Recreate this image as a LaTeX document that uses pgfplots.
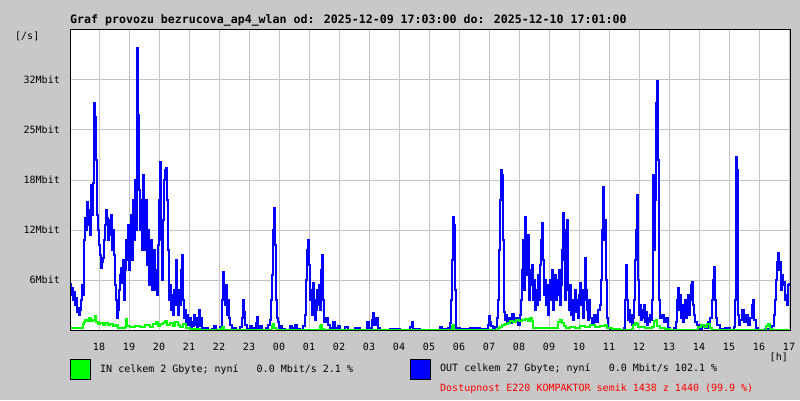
\documentclass[border=0pt]{standalone}
\usepackage{pgfplots}
\pgfplotsset{compat=1.18}
\usepackage{pgfplotstable}
\usepackage{fontspec}
\setmainfont{DejaVu Sans Mono}
\setmonofont{DejaVu Sans Mono}

\definecolor{bggray}{HTML}{C8C8C8}
\definecolor{gridgray}{HTML}{C4C4C4}
\definecolor{ingreen}{HTML}{00FF00}
\definecolor{outblue}{HTML}{0000FF}
\definecolor{availred}{HTML}{FF0000}

% minutes after 17:00 of the first day, Mbit/s
\pgfplotstableread{
m v
2 6.0
4 4.48
6 5.38
8 3.84
10 4.86
12 3.2
14 4.1
16 2.3
18 2.82
20 1.92
22 2.56
24 3.84
26 5.76
28 4.48
30 11.52
32 14.34
34 12.8
36 16.38
38 13.44
40 15.36
42 12.16
44 18.56
46 14.72
48 18.82
50 29.06
52 27.26
54 21.76
56 14.72
58 12.8
60 10.88
62 9.6
64 7.94
66 8.7
68 9.22
70 11.52
72 13.44
74 15.36
76 14.34
78 11.52
80 14.08
82 12.16
84 14.72
86 10.24
88 12.8
90 9.6
92 5.76
94 3.84
96 1.54
98 2.56
100 5.12
102 7.04
104 7.94
106 6.02
108 8.96
110 3.84
112 7.68
114 11.52
116 8.96
118 13.44
120 7.68
122 10.88
124 14.72
126 8.96
128 16.64
130 11.52
132 19.2
134 12.8
136 36.1
138 27.52
140 17.92
142 12.8
144 16.64
146 10.24
148 19.84
150 14.72
152 10.24
154 16.64
156 8.32
158 12.8
160 5.76
162 8.96
164 11.52
166 5.12
168 8.32
170 10.24
172 5.12
174 7.68
176 4.48
178 10.88
180 16.64
182 21.5
184 11.52
186 6.4
188 14.08
190 19.2
192 20.48
194 20.74
196 16.64
198 10.24
200 3.84
202 5.76
204 2.56
206 4.48
208 1.92
210 5.12
212 3.2
214 8.96
216 3.84
218 1.92
220 5.12
222 3.2
224 7.68
226 9.6
228 3.84
230 1.54
232 2.56
234 1.02
236 1.92
238 0.64
240 1.28
242 1.54
244 0.26
246 1.02
248 0.51
250 1.92
252 0.64
254 1.54
256 0.26
258 1.02
260 2.56
262 0.51
264 1.54
266 0.26
270 0
274 0.26
278 0
286 0.13
290 0.51
294 0
302 0.38
306 3.84
308 7.42
310 5.12
312 3.2
314 5.76
316 1.92
318 3.84
320 1.54
322 0.64
326 0.26
334 0
342 0.38
346 1.54
348 3.84
350 2.3
352 0.64
356 0.13
362 0.51
366 0
370 0.26
374 0.9
376 1.66
378 0.26
382 0.51
386 0
394 0.26
398 0.64
402 1.28
404 3.84
406 7.04
408 12.8
410 15.62
412 10.88
414 3.84
416 1.54
418 1.02
420 0.26
422 0.51
426 0.13
432 0
442 0.51
446 0.26
452 0.64
456 0.13
462 0
468 0.51
472 1.92
474 6.4
476 10.24
478 11.52
480 8.32
482 3.84
484 5.12
486 1.92
488 6.02
490 3.84
492 1.28
494 2.56
496 5.12
498 3.2
500 5.76
502 2.56
504 7.68
506 9.6
508 3.84
510 1.02
514 1.54
518 0.64
522 0.26
528 1.02
532 0.26
538 0.51
542 0
552 0.38
558 0
572 0.26
582 0
596 1.02
600 0.26
606 1.28
608 2.18
610 0.64
614 1.54
618 0.26
622 0
642 0.13
662 0
682 0.38
686 1.02
688 0.13
702 0
742 0.38
746 0.13
758 0.26
762 0.9
764 3.84
766 8.96
768 14.46
770 13.44
772 5.12
774 0.26
782 0.13
802 0.26
822 0.13
838 0.64
840 1.79
842 1.02
844 0.51
848 0.13
852 0.38
856 1.54
858 3.84
860 10.24
862 16.64
864 20.48
866 19.84
868 11.52
870 2.3
872 1.28
874 1.92
876 1.02
878 1.54
882 0.9
886 2.05
890 1.28
894 1.54
898 0.64
902 1.92
904 3.84
906 7.68
908 11.52
910 5.12
912 14.46
914 10.24
916 7.04
918 12.16
920 3.84
922 7.68
924 5.76
926 8.32
928 3.84
930 6.4
932 2.56
934 5.12
936 3.2
938 7.04
940 3.84
942 8.32
944 11.52
946 13.7
948 8.96
950 4.48
952 6.4
954 3.2
956 5.76
958 1.92
960 4.48
962 6.4
964 3.84
966 7.68
968 2.56
970 5.12
972 7.04
974 3.84
976 6.4
978 4.48
980 7.68
982 3.2
984 5.76
986 10.24
988 14.98
990 8.96
992 3.84
994 12.8
996 14.08
998 5.12
1000 2.56
1002 5.76
1004 1.92
1006 3.84
1008 1.28
1010 3.2
1012 5.12
1014 2.3
1016 3.84
1018 1.54
1020 4.48
1022 6.02
1024 3.2
1026 5.12
1028 1.54
1030 3.84
1032 9.22
1034 5.12
1036 2.56
1038 1.28
1040 3.84
1042 1.54
1046 0.64
1050 1.92
1054 1.02
1058 2.56
1062 3.2
1064 6.4
1066 12.8
1068 18.3
1070 11.52
1072 14.08
1074 6.4
1076 1.54
1078 0.26
1082 0
1092 0.13
1102 0
1110 0.26
1112 3.84
1114 8.32
1116 3.84
1118 1.28
1120 2.56
1122 1.02
1124 1.92
1126 0.64
1128 1.54
1130 3.84
1132 8.96
1134 12.8
1136 17.28
1138 6.4
1140 1.92
1142 3.2
1144 1.28
1146 2.56
1148 1.54
1150 3.2
1152 1.02
1154 2.3
1156 0.64
1158 1.54
1160 1.02
1162 1.92
1164 1.28
1166 3.84
1168 19.84
1170 10.24
1172 16.64
1174 29.06
1176 31.87
1178 21.76
1180 3.84
1182 1.54
1186 1.92
1190 1.02
1194 1.54
1198 0.26
1202 0
1210 0.26
1214 1.02
1216 3.84
1218 5.38
1220 2.56
1222 4.48
1224 1.54
1226 3.2
1228 1.02
1230 2.56
1232 3.84
1234 1.54
1236 2.82
1238 4.48
1240 1.92
1242 3.84
1244 5.76
1246 6.14
1248 3.2
1250 1.92
1252 1.02
1256 0.64
1260 0.13
1266 0.51
1272 0.26
1278 1.02
1282 1.54
1286 3.84
1288 6.4
1290 8.06
1292 3.84
1294 1.54
1296 0.64
1302 0.13
1312 0.26
1322 0
1330 0.38
1332 3.84
1334 22.14
1336 20.48
1338 1.92
1340 0.64
1342 1.28
1346 2.56
1350 1.02
1354 1.92
1358 0.64
1362 1.54
1366 3.2
1368 3.84
1370 1.28
1374 0.26
1378 0
1392 0.13
1402 0
1406 0.51
1410 1.92
1412 3.84
1414 6.4
1416 8.7
1418 9.86
1420 7.68
1422 8.7
1424 5.12
1426 7.04
1428 5.76
1430 6.14
1432 3.84
1434 4.48
1436 3.2
1438 5.76
1440 6.02
}\outdata

\pgfplotstableread{
m v
2 0.26
26 0.26
28 0.77
30 1.02
32 1.28
36 1.15
40 1.54
44 1.15
48 1.28
52 1.79
54 1.02
58 0.77
62 0.9
68 0.64
72 0.9
78 0.64
82 0.77
88 0.51
94 0.64
98 0.26
112 0.38
114 1.41
116 0.51
122 0.38
132 0.51
142 0.38
152 0.64
162 0.38
168 0.77
174 1.02
178 0.51
182 0.77
188 0.9
192 1.15
196 0.64
202 0.9
208 0.51
212 1.02
218 0.64
222 0.38
228 0.77
234 0.26
242 0.13
262 0
302 0.13
306 0.38
310 0
402 0
406 0.51
408 0.77
410 0.26
414 0
498 0
502 0.51
504 0.64
506 0.13
510 0
762 0
766 0.51
768 0.64
770 0
852 0
858 0.26
862 0.38
866 0.64
872 0.77
878 0.9
882 1.15
888 1.02
894 1.28
900 1.15
906 1.28
912 1.41
918 1.15
922 1.54
926 1.15
928 0.26
976 0.26
978 1.02
982 1.28
986 0.9
990 0.51
994 0.26
1002 0.38
1012 0.26
1022 0.51
1032 0.38
1042 0.64
1052 0.38
1062 0.51
1072 0.64
1076 0.26
1086 0.13
1102 0
1126 0.13
1128 0.64
1132 0.9
1136 0.77
1138 0.38
1152 0.26
1166 0.38
1170 1.15
1174 1.28
1176 0.51
1182 0.26
1192 0.13
1202 0
1256 0
1258 0.38
1264 0.64
1270 0.38
1276 0.77
1282 0.26
1286 0
1390 0
1394 0.51
1398 0.77
1402 0.13
1406 0
1440 0
}\indata

\begin{document}
\begin{tikzpicture}[x=1bp,y=1bp]
\fill[bggray] (0,0) rectangle (800,400);
\useasboundingbox (0,0) rectangle (800,400);

\begin{axis}[
  at={(70bp,70bp)}, anchor=south west,
  width=720bp, height=300bp, scale only axis,
  xmin=2, xmax=1442, ymin=0, ymax=38.4,
  axis background/.style={fill=white},
  axis line style={draw=none},
  grid=major,
  major grid style={draw=gridgray, line width=1bp},
  xtick={60,120,...,1440},
  xticklabels={18,19,20,21,22,23,00,01,02,03,04,05,06,07,08,09,10,11,12,13,14,15,16,17},
  ytick={6.4,12.8,19.2,25.6,32},
  yticklabels={6Mbit,12Mbit,18Mbit,25Mbit,32Mbit},
  major tick length=0pt,
  tick style={draw=none},
  tick label style={font=\fontsize{10bp}{12bp}\selectfont, inner sep=0pt},
  xticklabel style={anchor=north, yshift=-13bp},
  yticklabel style={anchor=east, xshift=-10bp},
]
\addplot[const plot, draw=outblue, line width=1.25bp] table[x=m, y=v] {\outdata};
\addplot[const plot, draw=ingreen, line width=1.25bp] table[x=m, y=v] {\indata};
\end{axis}

\draw[black, line width=1bp] (70,70) rectangle (790,370);

\node[anchor=base west, inner sep=0pt, font=\bfseries\fontsize{11.6bp}{14bp}\selectfont] at (70,377)
  {Graf provozu bezrucova\_ap4\_wlan od: 2025-12-09 17:03:00 do: 2025-12-10 17:01:00};
\node[anchor=north west, inner sep=0pt, font=\fontsize{10bp}{12bp}\selectfont] at (15,368) {[/s]};
\node[anchor=north east, inner sep=0pt, font=\fontsize{10bp}{12bp}\selectfont] at (788,47) {[h]};

\filldraw[fill=ingreen, draw=black, line width=1bp] (70.5,20.5) rectangle (90.5,40.5);
\node[anchor=base west, inner sep=0pt, font=\fontsize{10bp}{12bp}\selectfont] at (100,28)
  {IN celkem 2 Gbyte; nyní\ \ \ 0.0 Mbit/s 2.1 \%};
\filldraw[fill=outblue, draw=black, line width=1bp] (410.5,20.5) rectangle (430.5,40.5);
\node[anchor=base west, inner sep=0pt, font=\fontsize{10bp}{12bp}\selectfont] at (440,28.5)
  {OUT celkem 27 Gbyte; nyní\ \ \ 0.0 Mbit/s 102.1 \%};
\node[anchor=base west, inner sep=0pt, text=availred, font=\fontsize{10bp}{12bp}\selectfont] at (440,8.5)
  {Dostupnost E220 KOMPAKTOR semik 1438 z 1440 (99.9 \%)};
\end{tikzpicture}
\end{document}
